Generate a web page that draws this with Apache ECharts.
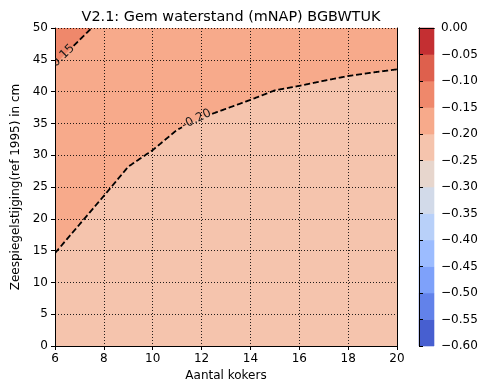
<!DOCTYPE html>
<html>
<head>
<meta charset="utf-8">
<script src="https://cdn.jsdelivr.net/npm/echarts@6/dist/echarts.min.js"></script>
<style>
html, body { margin: 0; padding: 0; background: #fff; }
#chart { width: 484px; height: 387px; }
</style>
</head>
<body>
<div id="chart"></div>
<script>
// Axis ranges: Aantal kokers (x) and zeespiegelstijging in cm (y)
const kokersRange = [6, 20];
const stijgingRange = [0, 50];

// Contour line at -0.20 mNAP
const contour020X = [6, 7.2, 8, 9, 10, 11, 12, 13, 14, 15, 16, 17, 18, 19, 20];
const contour020Y = [14.6, 20.0, 23.6, 28.2, 30.8, 34.0, 35.9, 37.3, 38.7, 40.2, 40.9, 41.7, 42.45, 43.0, 43.5];
const label020Pos = [11.79, 35.65];

// Contour line at -0.15 mNAP
const contour015X = [6, 7.5];
const contour015Y = [44.3, 50];
const label015Pos = [6.27, 45.4];

// Filled contour levels and their colours (coolwarm)
const levels = [-0.60, -0.55, -0.50, -0.45, -0.40, -0.35, -0.30, -0.25, -0.20, -0.15, -0.10, -0.05, 0.00];
const levelColors = [
  'rgb(71,95,208)', 'rgb(98,130,234)', 'rgb(126,161,250)', 'rgb(156,188,255)',
  'rgb(184,208,249)', 'rgb(210,218,233)', 'rgb(231,214,205)', 'rgb(245,196,173)',
  'rgb(247,170,139)', 'rgb(239,136,107)', 'rgb(222,96,77)', 'rgb(196,47,50)'
];

const FONT = 'DejaVu Sans';

function fmtLevel(v) {
  if (Math.abs(v) < 1e-9) v = 0;
  return v.toFixed(2).replace('-', '\u2212');
}

// Dashed contour line with an inline label (line is cut around the label)
function contourRenderer(xs, ys, labelPos, text) {
  return function (params, api) {
    const pts = xs.map((x, i) => api.coord([x, ys[i]]));
    const c = api.coord(labelPos);
    const r = 16.5;
    const pieces = [];
    let cur = [];
    const outside = p => Math.hypot(p[0] - c[0], p[1] - c[1]) > r;
    let best = null, bestD = Infinity;
    for (let i = 0; i < pts.length - 1; i++) {
      const a = pts[i], b = pts[i + 1];
      const dx = b[0] - a[0], dy = b[1] - a[1];
      const len = Math.hypot(dx, dy);
      const n = Math.max(1, Math.ceil(len / 0.5));
      for (let k = 0; k < n; k++) {
        const p = [a[0] + dx * k / n, a[1] + dy * k / n];
        if (outside(p)) cur.push(p);
        else if (cur.length) { pieces.push(cur); cur = []; }
      }
      // segment nearest to the label sets the text angle
      const t = Math.max(0, Math.min(1, ((c[0] - a[0]) * dx + (c[1] - a[1]) * dy) / (len * len)));
      const d = Math.hypot(a[0] + dx * t - c[0], a[1] + dy * t - c[1]);
      if (d < bestD) { bestD = d; best = [dx, dy]; }
    }
    const last = pts[pts.length - 1];
    if (outside(last)) cur.push(last);
    if (cur.length > 1) pieces.push(cur);

    let ang = Math.atan2(-best[1], best[0]);
    if (ang > Math.PI / 2) ang -= Math.PI;
    if (ang < -Math.PI / 2) ang += Math.PI;

    const children = pieces.filter(p => p.length > 1).map(p => ({
      type: 'polyline',
      shape: { points: p },
      style: { stroke: '#000', lineWidth: 1.8, lineDash: [6, 2.8], fill: null }
    }));
    children.push({
      type: 'text',
      x: c[0], y: c[1],
      rotation: ang,
      style: {
        text: text, x: 0, y: 0, fill: '#1a1a1a',
        font: '12px "' + FONT + '"', align: 'center', verticalAlign: 'middle'
      }
    });
    return { type: 'group', children: children };
  };
}

const chart = echarts.init(document.getElementById('chart'), null, { renderer: 'canvas' });

const axisLineBlack = { show: true, lineStyle: { color: '#000', width: 1 } };
const gridDotted = { show: true, lineStyle: { color: 'rgba(0,0,0,0.85)', width: 1, type: [1, 2] } };

const option = {
  animation: false,
  backgroundColor: '#fff',
  textStyle: { fontFamily: FONT },
  title: {
    text: 'V2.1: Gem waterstand (mNAP) BGBWTUK',
    left: 226, top: 5, textAlign: 'center',
    textStyle: { fontFamily: FONT, fontSize: 14.4, fontWeight: 'normal', color: '#000' }
  },
  grid: [
    { left: 55, top: 28, width: 342, height: 318 },
    { left: 419, top: 28, width: 15, height: 318 }
  ],
  xAxis: [
    {
      type: 'value', gridIndex: 0, min: kokersRange[0], max: kokersRange[1], interval: 2, z: 5,
      name: 'Aantal kokers', nameLocation: 'middle', nameGap: 22,
      nameTextStyle: { fontFamily: FONT, fontSize: 12, color: '#000' },
      axisLine: axisLineBlack,
      axisTick: { show: true, inside: false, length: 4, lineStyle: { color: '#000' } },
      axisLabel: { fontFamily: FONT, fontSize: 12, color: '#000', margin: 7 },
      splitLine: gridDotted
    },
    {
      type: 'value', gridIndex: 0, position: 'top', min: kokersRange[0], max: kokersRange[1], z: 5,
      axisLine: axisLineBlack, axisTick: { show: false }, axisLabel: { show: false }, splitLine: { show: false }
    },
    {
      type: 'value', gridIndex: 1, min: 0, max: 1, z: 5,
      axisLine: axisLineBlack, axisTick: { show: false }, axisLabel: { show: false }, splitLine: { show: false }
    },
    {
      type: 'value', gridIndex: 1, position: 'top', min: 0, max: 1, z: 5,
      axisLine: axisLineBlack, axisTick: { show: false }, axisLabel: { show: false }, splitLine: { show: false }
    }
  ],
  yAxis: [
    {
      type: 'value', gridIndex: 0, min: stijgingRange[0], max: stijgingRange[1], interval: 5, z: 5,
      name: 'Zeespiegelstijging(ref 1995) in cm', nameLocation: 'middle', nameGap: 31,
      nameTextStyle: { fontFamily: FONT, fontSize: 12, color: '#000' },
      axisLine: axisLineBlack,
      axisTick: { show: true, inside: false, length: 4, lineStyle: { color: '#000' } },
      axisLabel: { fontFamily: FONT, fontSize: 12, color: '#000', margin: 7 },
      splitLine: gridDotted
    },
    {
      type: 'value', gridIndex: 0, position: 'right', min: stijgingRange[0], max: stijgingRange[1], z: 5,
      axisLine: axisLineBlack, axisTick: { show: false }, axisLabel: { show: false }, splitLine: { show: false }
    },
    {
      type: 'value', gridIndex: 1, position: 'right', min: levels[0], max: levels[levels.length - 1], interval: 0.05, z: 5,
      axisLine: axisLineBlack,
      axisTick: { show: true, inside: false, length: 4, lineStyle: { color: '#000' } },
      axisLabel: { fontFamily: FONT, fontSize: 12, color: '#000', margin: 7, formatter: fmtLevel },
      splitLine: { show: false }
    },
    {
      type: 'value', gridIndex: 1, position: 'left', min: levels[0], max: levels[levels.length - 1], z: 5,
      axisLine: axisLineBlack, axisTick: { show: false }, axisLabel: { show: false }, splitLine: { show: false }
    }
  ],
  series: [
    // band -0.25 .. -0.20 covering the whole field
    {
      type: 'line', xAxisIndex: 0, yAxisIndex: 0, z: 1, symbol: 'none', silent: true,
      data: [[kokersRange[0], stijgingRange[1]], [kokersRange[1], stijgingRange[1]]],
      lineStyle: { width: 0, opacity: 0 },
      areaStyle: { color: levelColors[7], opacity: 1, origin: 'start' }
    },
    // band -0.20 .. -0.15 above the -0.20 contour
    {
      type: 'line', xAxisIndex: 0, yAxisIndex: 0, z: 1, symbol: 'none', silent: true,
      data: contour020X.map((x, i) => [x, contour020Y[i]]),
      lineStyle: { width: 0, opacity: 0 },
      areaStyle: { color: levelColors[8], opacity: 1, origin: 'end' }
    },
    // band -0.15 .. -0.10 above the -0.15 contour
    {
      type: 'line', xAxisIndex: 0, yAxisIndex: 0, z: 1, symbol: 'none', silent: true,
      data: contour015X.map((x, i) => [x, contour015Y[i]]),
      lineStyle: { width: 0, opacity: 0 },
      areaStyle: { color: levelColors[9], opacity: 1, origin: 'end' }
    },
    {
      type: 'custom', xAxisIndex: 0, yAxisIndex: 0, z: 6, clip: true, silent: true,
      data: [[contour020X[0], contour020Y[0]]],
      renderItem: contourRenderer(contour020X, contour020Y, label020Pos, fmtLevel(levels[8]).replace('\u2212', '-'))
    },
    {
      type: 'custom', xAxisIndex: 0, yAxisIndex: 0, z: 6, clip: true, silent: true,
      data: [[contour015X[0], contour015Y[0]]],
      renderItem: contourRenderer(contour015X, contour015Y, label015Pos, fmtLevel(levels[9]).replace('\u2212', '-'))
    },
    // colour bar
    {
      type: 'custom', xAxisIndex: 2, yAxisIndex: 2, z: 1, silent: true,
      data: levelColors.map((c, i) => [levels[i], levels[i + 1], i]),
      encode: { y: [0, 1] },
      renderItem: function (params, api) {
        const top = api.coord([0, api.value(1)]);
        const bot = api.coord([1, api.value(0)]);
        const col = levelColors[api.value(2)];
        return {
          type: 'rect',
          shape: { x: top[0], y: top[1], width: bot[0] - top[0], height: bot[1] - top[1] },
          style: { fill: col, stroke: col, lineWidth: 0.6 }
        };
      }
    }
  ]
};

chart.setOption(option);
</script>
</body>
</html>
